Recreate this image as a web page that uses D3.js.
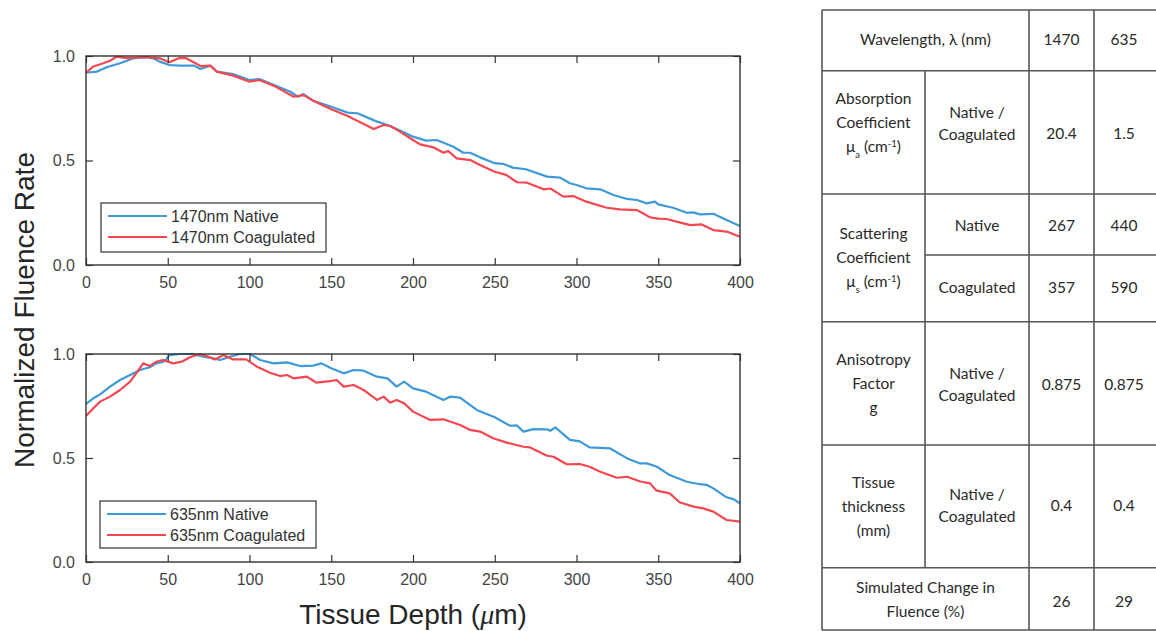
<!DOCTYPE html>
<html><head><meta charset="utf-8">
<script src="https://cdn.jsdelivr.net/npm/d3@7"></script>
<style>body{margin:0;background:#fff}svg{display:block}</style>
</head><body><svg id="c" width="1156" height="631"></svg>
<script>
const depthTicks=[0,50,100,150,200,250,300,350,400];
const fluenceTicks=[0,0.5,1];

const nat1470Depth=[0,6.5,12.6,20.8,25,29,37,41,45,51,57,66,70,76,80,90,100,106,115,125,129.6,133,139,150,160,166,178,180.3,186,193,200,208,214.5,224.7,230.8,234.9,241,250,255,261,269,282,290,296,300,306,314.5,322.6,331,337,343,348,350,359,367.5,371.5,375.5,383.7,391.8,400];
const nat1470Val=[0.92,0.925,0.946,0.965,0.977,0.989,0.994,0.989,0.973,0.957,0.954,0.954,0.938,0.954,0.925,0.914,0.885,0.89,0.861,0.829,0.805,0.818,0.786,0.757,0.729,0.726,0.686,0.681,0.665,0.64,0.614,0.595,0.598,0.566,0.537,0.537,0.515,0.487,0.484,0.466,0.458,0.423,0.418,0.391,0.383,0.367,0.362,0.335,0.316,0.311,0.295,0.303,0.29,0.274,0.25,0.252,0.242,0.245,0.215,0.187];

const coa1470Depth=[0,4.5,10.6,14.7,18.8,25,37,45,51,57,61,70,76,80,90,100,106,115,127,133,139,150,160,176,182,186,192,200,204.3,212.5,218.6,221.6,226.7,235,241,250,257,263.6,269.7,280,284,292,298,306,318.5,326.6,337,345,350,355,363,369.6,376.5,383.7,391.8,400];
const coa1470Val=[0.92,0.95,0.965,0.977,0.997,0.99,0.994,0.989,0.97,0.99,0.99,0.952,0.954,0.925,0.906,0.877,0.885,0.857,0.805,0.813,0.786,0.745,0.713,0.651,0.67,0.665,0.638,0.598,0.577,0.563,0.537,0.545,0.51,0.502,0.478,0.446,0.431,0.396,0.394,0.362,0.366,0.327,0.33,0.303,0.274,0.266,0.263,0.228,0.222,0.22,0.204,0.191,0.194,0.167,0.16,0.135];

const nat635Depth=[0,4.5,8.6,14.7,20.8,27,33,39,43,47.3,49.3,51,57.5,65.6,71.8,78,82,88,94,100.4,106.5,114.7,122.9,131,139,144,150,157.6,163.7,169.8,178,184.4,190,194.6,200,208,218.6,222.7,228.8,239,250,259.4,263.5,267.5,273.7,281.8,284,287,296,302,308,320.6,331,339,343,349,357,367.5,375.5,379.6,383.7,391.8,396,400];
const nat635Val=[0.76,0.787,0.806,0.843,0.875,0.899,0.923,0.936,0.955,0.963,0.976,0.995,1.0,1.0,0.987,0.979,0.971,0.987,1.0,1.0,0.971,0.955,0.96,0.942,0.944,0.955,0.931,0.907,0.923,0.92,0.891,0.883,0.843,0.867,0.835,0.819,0.779,0.795,0.79,0.731,0.696,0.655,0.657,0.627,0.639,0.638,0.631,0.647,0.587,0.58,0.551,0.546,0.498,0.474,0.474,0.459,0.418,0.386,0.374,0.371,0.354,0.311,0.302,0.282];

const coa635Depth=[0,4.5,8.6,14.7,20.8,27,31,35,39,43,47,53.4,58.5,63.6,67.7,69.7,73.8,78.9,84,90,98,104.6,112.6,118.7,122.9,126.9,135,141,149.2,153.3,157.6,163.7,169.8,173.8,178,182,186,190,194.6,200,210.5,218.6,228.8,235,241,249,257.3,267.5,271.6,282,286,294,302,308,314.5,324.6,331,339,345,349,357,363,371.5,377.6,383.7,391.8,400];
const coa635Val=[0.702,0.739,0.771,0.795,0.827,0.867,0.91,0.955,0.942,0.963,0.971,0.955,0.963,0.984,0.995,1.0,0.99,0.974,0.995,0.974,0.974,0.939,0.91,0.894,0.899,0.883,0.891,0.862,0.87,0.875,0.843,0.851,0.827,0.803,0.779,0.795,0.766,0.779,0.763,0.723,0.683,0.686,0.659,0.635,0.627,0.595,0.574,0.554,0.551,0.511,0.506,0.47,0.471,0.458,0.434,0.405,0.41,0.387,0.378,0.343,0.33,0.287,0.266,0.258,0.242,0.202,0.194];

const legendTop=["1470nm Native","1470nm Coagulated"];
const legendBottom=["635nm Native","635nm Coagulated"];
const yLabel="Normalized Fluence Rate";

// table content
const colLines=[822,925,1029,1094,1160];
const rowLines=[10,70.7,194,321.7,445,567.7,630];
const headerText="Wavelength, λ (nm)";
const wavelengths=["1470","635"];
const paramNames=[["Absorption","Coefficient","μa (cm-1)"],["Scattering","Coefficient","μs (cm-1)"],["Anisotropy","Factor","g"],["Tissue","thickness","(mm)"]];
const stateLabels=[["Native /","Coagulated"],["Native"],["Coagulated"],["Native /","Coagulated"],["Native /","Coagulated"]];
const values1470=["20.4","267","357","0.875","0.4"];
const values635=["1.5","440","590","0.875","0.4"];
const footerText=["Simulated Change in","Fluence (%)"];
const change1470="26", change635="29";

const blue="#3e99d8", red="#f5474f", axisCol="#333", tickCol="#444";
const svg=d3.select("#c");
const x=d3.scaleLinear().domain([0,400]).range([86,740]);

function panel(top,bottom,series,legend,legBox){
  const y=d3.scaleLinear().domain([0,1]).range([bottom,top]);
  const g=svg.append("g");
  const line=d3.line().x(d=>x(d[0])).y(d=>y(d[1]));
  series.forEach(s=>{
    g.append("path").datum(d3.zip(s.d,s.v)).attr("d",line).attr("fill","none")
     .attr("stroke",s.c).attr("stroke-width",2.2).attr("stroke-linejoin","round");
  });
  const ax=(gen,tr)=>{const a=g.append("g").attr("transform",tr).call(gen);
    a.select(".domain").remove(); a.selectAll("line").attr("stroke",axisCol).attr("stroke-width",1.2);
    a.selectAll("text").attr("fill",tickCol).style("font-family","Liberation Sans, Arial").style("font-size","16px"); return a;};
  ax(d3.axisBottom(x).tickValues(depthTicks).tickSize(-7).tickPadding(12).tickFormat(d3.format("d")),`translate(0,${bottom})`);
  ax(d3.axisTop(x).tickValues(depthTicks).tickSize(-7).tickFormat(""),`translate(0,${top})`);
  ax(d3.axisLeft(y).tickValues(fluenceTicks).tickSize(-7).tickPadding(11).tickFormat(d3.format(".1f")),`translate(86,0)`);
  ax(d3.axisRight(y).tickValues(fluenceTicks).tickSize(-7).tickFormat(""),`translate(740,0)`);
  g.append("rect").attr("x",86).attr("y",top).attr("width",654).attr("height",bottom-top)
   .attr("fill","none").attr("stroke",axisCol).attr("stroke-width",1.4);
  // legend
  g.append("rect").attr("x",legBox.x).attr("y",legBox.y).attr("width",legBox.w).attr("height",legBox.h)
   .attr("fill","#fff").attr("stroke",axisCol).attr("stroke-width",1.2);
  legend.forEach((t,i)=>{
    const yy=legBox.y+13+i*21;
    g.append("line").attr("x1",legBox.x+7).attr("x2",legBox.x+66).attr("y1",yy).attr("y2",yy)
     .attr("stroke",series[i].c).attr("stroke-width",2);
    g.append("text").attr("x",legBox.x+70).attr("y",yy).attr("dy","0.36em").text(t)
     .attr("fill","#333").style("font-family","Liberation Sans, Arial").style("font-size","16px");
  });
}
panel(56,265,[{d:nat1470Depth,v:nat1470Val,c:blue},{d:coa1470Depth,v:coa1470Val,c:red}],legendTop,{x:101,y:203,w:225,h:49});
panel(354,562,[{d:nat635Depth,v:nat635Val,c:blue},{d:coa635Depth,v:coa635Val,c:red}],legendBottom,{x:100,y:501,w:216,h:47});

svg.append("text").attr("transform","translate(34,310) rotate(-90)").attr("text-anchor","middle")
  .text(yLabel).attr("fill","#262626").style("font-family","Liberation Sans, Arial").style("font-size","28px");
const xl=svg.append("text").attr("x",413).attr("y",624).attr("text-anchor","middle")
  .attr("fill","#262626").style("font-family","Liberation Sans, Arial").style("font-size","28px");
xl.append("tspan").text("Tissue Depth (");
xl.append("tspan").text("μ").style("font-style","italic").style("font-family","Liberation Serif, Times New Roman");
xl.append("tspan").text("m)");

// table
const T=svg.append("g").style("font-family","Lato, Open Sans").style("font-size","15.5px").attr("fill","#2a2a2a");
const ls={stroke:"#555","stroke-width":1.6};
function hl(x1,x2,yy){T.append("line").attr("x1",x1).attr("x2",x2).attr("y1",yy).attr("y2",yy).attr("stroke",ls.stroke).attr("stroke-width",ls["stroke-width"]);}
function vl(xx,y1,y2){T.append("line").attr("x1",xx).attr("x2",xx).attr("y1",y1).attr("y2",y2).attr("stroke",ls.stroke).attr("stroke-width",ls["stroke-width"]);}
rowLines.forEach(r=>hl(colLines[0],colLines[4],r));
hl(colLines[1],colLines[4],255);
vl(colLines[0],rowLines[0],rowLines[6]);
vl(colLines[1],rowLines[1],rowLines[5]);
vl(colLines[2],rowLines[0],rowLines[6]);
vl(colLines[3],rowLines[0],rowLines[6]);
function txt(cx,cy,lines,gap){
  const n=lines.length;
  lines.forEach((l,i)=>{
    const t=T.append("text").attr("x",cx).attr("y",cy+(i-(n-1)/2)*gap).attr("dy","0.35em").attr("text-anchor","middle");
    const m=l.match(/^(μ)([as]) \(cm(-1)\)$/);
    if(m){t.append("tspan").text("μ");t.append("tspan").text(m[2]).attr("font-size","9.5px").attr("baseline-shift","sub");
      t.append("tspan").text(" (cm");
      t.append("tspan").text("-1").attr("font-size","9.5px").attr("baseline-shift","super");
      t.append("tspan").text(")");}
    else t.text(l);
  });
}
const c1=(colLines[0]+colLines[1])/2, c2=(colLines[1]+colLines[2])/2, c3=(colLines[2]+colLines[3])/2, c4=1124;
txt((colLines[0]+colLines[2])/2,40,[headerText],23);
txt(c3,40,[wavelengths[0]],23); txt(c4,40,[wavelengths[1]],23);
const paramCenters=[123,258,384,507];
paramNames.forEach((p,i)=>txt(c1,paramCenters[i],p,24));
const stateCenters=[124,226,288,385,506];
stateLabels.forEach((s,i)=>{txt(c2,stateCenters[i],s,22); txt(c3,i==0?134:stateCenters[i],[values1470[i]],22); txt(c4,i==0?134:stateCenters[i],[values635[i]],22);});
txt((colLines[0]+colLines[2])/2,600,footerText,24);
txt(c3,602,[change1470],22); txt(c4,602,[change635],22);
</script></body></html>
